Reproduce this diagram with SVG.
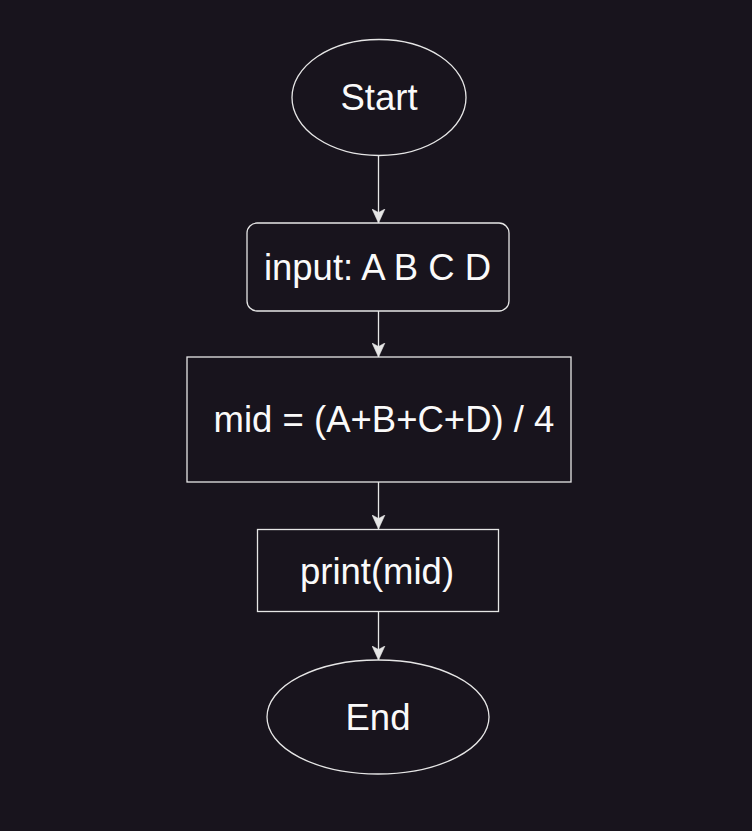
<svg xmlns="http://www.w3.org/2000/svg" width="752" height="831" viewBox="0 0 752 831">
  <style>
    .shape { fill: #18141d; stroke: #e6e6e6; stroke-width: 1.3; }
    .edge { fill: none; stroke: #e6e6e6; stroke-width: 1.3; }
    .label { font-family: "Liberation Sans", Arial, sans-serif; font-size: 36.5px; fill: #fafafa; text-anchor: middle; }
  </style>
  <defs>
    <marker id="arrow" markerUnits="userSpaceOnUse" markerWidth="14" markerHeight="14" viewBox="0 0 12 12" refX="12" refY="6" orient="auto">
      <path d="M0,0.5 L12,6 L0,11.5 L3,6 Z" fill="#e6e6e6" stroke="#e6e6e6" stroke-width="0.5"/>
    </marker>
  </defs>
  <rect width="752" height="831" fill="#18141d"/>
  <g id="connectors">
    <line class="edge" x1="378.5" y1="156" x2="378.5" y2="223" marker-end="url(#arrow)"/>
    <line class="edge" x1="378.5" y1="311" x2="378.5" y2="357" marker-end="url(#arrow)"/>
    <line class="edge" x1="378.5" y1="482" x2="378.5" y2="529" marker-end="url(#arrow)"/>
    <line class="edge" x1="378.5" y1="612" x2="378.5" y2="660" marker-end="url(#arrow)"/>
  </g>
  <g id="start">
    <ellipse class="shape" cx="379" cy="97.5" rx="87" ry="58"/>
    <text class="label" x="379" y="110">Start</text>
  </g>
  <g id="input">
    <rect class="shape" x="247" y="223" width="262" height="88" rx="10" ry="10"/>
    <text class="label" x="377.5" y="280">input: A B C D</text>
  </g>
  <g id="compute">
    <rect class="shape" x="187" y="357" width="384" height="125"/>
    <text class="label" x="384" y="432">mid = (A+B+C+D) / 4</text>
  </g>
  <g id="print">
    <rect class="shape" x="257.5" y="529.5" width="241" height="82"/>
    <text class="label" x="377" y="584">print(mid)</text>
  </g>
  <g id="end">
    <ellipse class="shape" cx="378" cy="717" rx="111" ry="57"/>
    <text class="label" x="378" y="730">End</text>
  </g>
</svg>
